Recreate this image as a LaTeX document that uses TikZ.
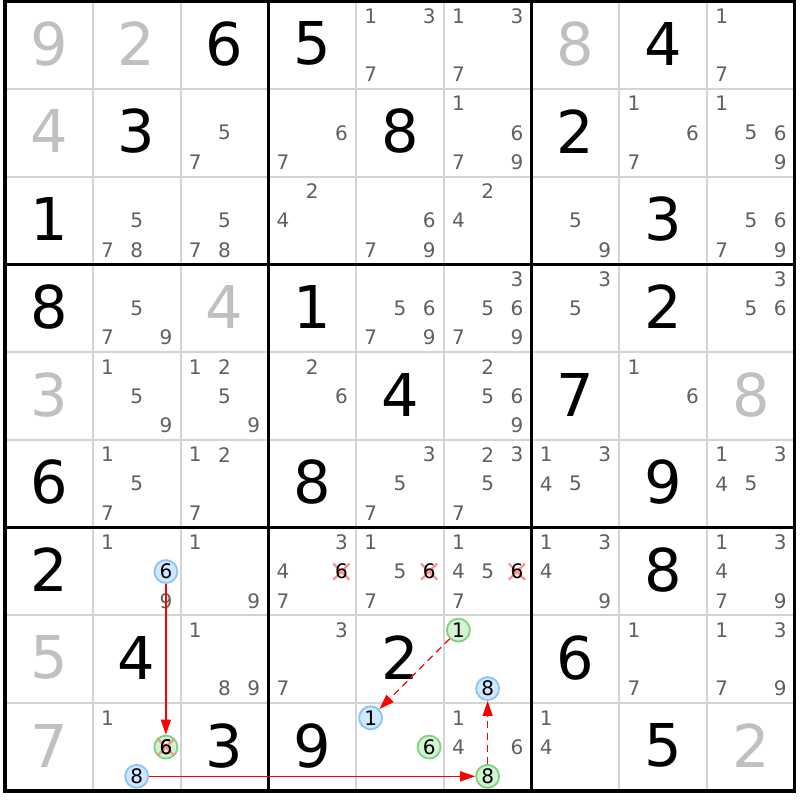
\documentclass[tikz,border=0pt]{standalone}
\usepackage{fontspec}
\setmainfont{DejaVu Sans}
\usetikzlibrary{arrows.meta,shapes.misc}
\definecolor{givgray}{HTML}{C0C0C0}
\definecolor{candgray}{HTML}{606060}
\definecolor{thingray}{HTML}{D4D4D4}
\definecolor{bfill}{HTML}{CFE7FF}
\definecolor{bline}{HTML}{8CC4F2}
\definecolor{gfill}{HTML}{D3F3D3}
\definecolor{gline}{HTML}{80D280}
\definecolor{xpink}{HTML}{FF9090}
\def\X{5}\def\Y{1.2}\def\S{87.75}
\newcommand\sdkpos[3]{%
  \pgfmathsetmacro\px{\X+\S*(#2-1)+\S*(2*mod(#3-1,3)+1)/6}%
  \pgfmathsetmacro\py{\Y+\S*(#1-1)+\S*(2*div(#3-1,3)+1)/6}}
\newcommand\sdkgiv[4]{%
  \pgfmathsetmacro\px{\X+\S*(#2-0.5)}\pgfmathsetmacro\py{\Y+\S*(#1-0.5)-1.5}%
  \node[big,text=#4] (g#1#2) at (\px,\py) {#3};}
\newcommand\sdkcand[3]{%
  \foreach \d in {#3}{\sdkpos{#1}{#2}{\d}\node[cand] (c#1#2\d) at (\px,\py) {\d};}}
\newcommand\sdkx[3]{%
  \sdkpos{#1}{#2}{#3}\node[xmark] (x#1#2#3) at (\px,\py) {};
  \node[cand,text=black] (c#1#2#3) at (\px,\py) {#3};}
\newcommand\sdkspc[4]{%
  \sdkpos{#1}{#2}{#3}\node[#4] (s#1#2#3) at (\px,\py) {#3};}
\begin{document}
\begin{tikzpicture}[x=1pt,y=-1pt,
  big/.style={font=\fontsize{59}{60}\selectfont,inner sep=0pt},
  cand/.style={font=\fontsize{20}{22}\selectfont,text=candgray,inner sep=0pt},
  bluec/.style={circle,draw=bline,fill=bfill,line width=1.8pt,minimum size=23pt,inner sep=0pt,font=\fontsize{20}{22}\selectfont,text=black},
  greenc/.style={circle,draw=gline,fill=gfill,line width=1.8pt,minimum size=23pt,inner sep=0pt,font=\fontsize{20}{22}\selectfont,text=black},
  xmark/.style={cross out,draw=xpink,line width=2.2pt,minimum size=14pt,inner sep=0pt},
  link/.style={draw=red,line width=1.3pt,-{Triangle[length=15pt,width=10pt]}},
  weak/.style={link,dash pattern=on 7pt off 5pt}]
\useasboundingbox (0,0) rectangle (800,800);
\fill[white] (0,0) rectangle (800,800);
% thin grid
\foreach \i in {1,2,4,5,7,8}{
  \draw[draw=thingray,line width=2pt] ({\X+\S*\i},\Y) -- ({\X+\S*\i},{\Y+9*\S});
  \draw[draw=thingray,line width=2pt] (\X,{\Y+\S*\i}) -- ({\X+9*\S},{\Y+\S*\i});}
% row 1
\sdkgiv{1}{1}{9}{givgray}\sdkgiv{1}{2}{2}{givgray}\sdkgiv{1}{3}{6}{black}\sdkgiv{1}{4}{5}{black}
\sdkcand{1}{5}{1,3,7}\sdkcand{1}{6}{1,3,7}\sdkgiv{1}{7}{8}{givgray}\sdkgiv{1}{8}{4}{black}\sdkcand{1}{9}{1,7}
% row 2
\sdkgiv{2}{1}{4}{givgray}\sdkgiv{2}{2}{3}{black}\sdkcand{2}{3}{5,7}\sdkcand{2}{4}{6,7}\sdkgiv{2}{5}{8}{black}
\sdkcand{2}{6}{1,6,7,9}\sdkgiv{2}{7}{2}{black}\sdkcand{2}{8}{1,6,7}\sdkcand{2}{9}{1,5,6,9}
% row 3
\sdkgiv{3}{1}{1}{black}\sdkcand{3}{2}{5,7,8}\sdkcand{3}{3}{5,7,8}\sdkcand{3}{4}{2,4}\sdkcand{3}{5}{6,7,9}
\sdkcand{3}{6}{2,4}\sdkcand{3}{7}{5,9}\sdkgiv{3}{8}{3}{black}\sdkcand{3}{9}{5,6,7,9}
% row 4
\sdkgiv{4}{1}{8}{black}\sdkcand{4}{2}{5,7,9}\sdkgiv{4}{3}{4}{givgray}\sdkgiv{4}{4}{1}{black}\sdkcand{4}{5}{5,6,7,9}
\sdkcand{4}{6}{3,5,6,7,9}\sdkcand{4}{7}{3,5}\sdkgiv{4}{8}{2}{black}\sdkcand{4}{9}{3,5,6}
% row 5
\sdkgiv{5}{1}{3}{givgray}\sdkcand{5}{2}{1,5,9}\sdkcand{5}{3}{1,2,5,9}\sdkcand{5}{4}{2,6}\sdkgiv{5}{5}{4}{black}
\sdkcand{5}{6}{2,5,6,9}\sdkgiv{5}{7}{7}{black}\sdkcand{5}{8}{1,6}\sdkgiv{5}{9}{8}{givgray}
% row 6
\sdkgiv{6}{1}{6}{black}\sdkcand{6}{2}{1,5,7}\sdkcand{6}{3}{1,2,7}\sdkgiv{6}{4}{8}{black}\sdkcand{6}{5}{3,5,7}
\sdkcand{6}{6}{2,3,5,7}\sdkcand{6}{7}{1,3,4,5}\sdkgiv{6}{8}{9}{black}\sdkcand{6}{9}{1,3,4,5}
% row 7
\sdkgiv{7}{1}{2}{black}\sdkcand{7}{2}{1,9}\sdkspc{7}{2}{6}{bluec}\sdkcand{7}{3}{1,9}
\sdkcand{7}{4}{3,4,7}\sdkx{7}{4}{6}\sdkcand{7}{5}{1,5,7}\sdkx{7}{5}{6}\sdkcand{7}{6}{1,4,5,7}\sdkx{7}{6}{6}
\sdkcand{7}{7}{1,3,4,9}\sdkgiv{7}{8}{8}{black}\sdkcand{7}{9}{1,3,4,7,9}
% row 8
\sdkgiv{8}{1}{5}{givgray}\sdkgiv{8}{2}{4}{black}\sdkcand{8}{3}{1,8,9}\sdkcand{8}{4}{3,7}\sdkgiv{8}{5}{2}{black}
\sdkspc{8}{6}{1}{greenc}\sdkspc{8}{6}{8}{bluec}\sdkgiv{8}{7}{6}{black}\sdkcand{8}{8}{1,7}\sdkcand{8}{9}{1,3,7,9}
% row 9
\sdkgiv{9}{1}{7}{givgray}\sdkcand{9}{2}{1}\sdkspc{9}{2}{6}{greenc}\sdkpos{9}{2}{6}\node[xmark] (x926) at (\px,\py) {};
\node[cand,text=black] (t926) at (\px,\py) {6};
\sdkspc{9}{2}{8}{bluec}\sdkgiv{9}{3}{3}{black}\sdkgiv{9}{4}{9}{black}
\sdkspc{9}{5}{1}{bluec}\sdkspc{9}{5}{6}{greenc}\sdkcand{9}{6}{1,4,6}\sdkspc{9}{6}{8}{greenc}
\sdkcand{9}{7}{1,4}\sdkgiv{9}{8}{5}{black}\sdkgiv{9}{9}{2}{givgray}
% thick grid
\foreach \i in {0,3,6,9}{
  \draw[black,line width=3.2pt] ({\X+\S*\i},{\Y-1.6}) -- ({\X+\S*\i},{\Y+9*\S+1.6});
  \draw[black,line width=3.2pt] ({\X-1.6},{\Y+\S*\i}) -- ({\X+9*\S+1.6},{\Y+\S*\i});}
% links
\draw[link] (s726) -- (s926);
\draw[link] (s928) -- (s968);
\draw[weak] (s968) -- (s868);
\draw[weak] (s861) -- (s951);
\end{tikzpicture}
\end{document}
